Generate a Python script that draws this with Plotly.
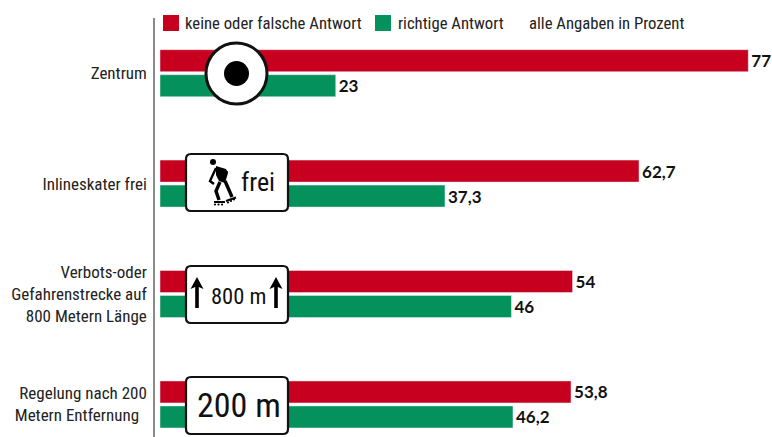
import plotly.graph_objects as go

categories = ["Zentrum", "Inlineskater frei", "Verbots-oder<br>Gefahrenstrecke auf<br>800 Metern Länge",
              "Regelung nach 200<br>Metern Entfernung\u00a0\u00a0"]
falsch = [77, 62.7, 54, 53.8]
richtig = [23, 37.3, 46, 46.2]
name_falsch = "keine oder falsche Antwort"
name_richtig = "richtige Antwort"
note = "alle Angaben in Prozent"
RED = "#C8001F"
GREEN = "#05915B"
FONT = "Roboto Condensed, Roboto, sans-serif"
BOLD = "Lato, sans-serif"
W, H = 772, 437
L, T = 155, 18
fmt = lambda v: str(v).replace(".", ",")
px = lambda x: (x - L) / (W - L)
py = lambda y: 1 - (y - T) / (H - T)

fig = go.Figure()
for name, vals, col in [(name_falsch, falsch, RED), (name_richtig, richtig, GREEN)]:
    fig.add_trace(go.Bar(name=name, y=categories, x=vals, orientation="h", marker_color=col,
                         text=[fmt(v) for v in vals], textposition="outside", constraintext="none",
                         cliponaxis=False,
                         textfont=dict(family=BOLD, size=17, color="#111111", weight="bold")))

shapes, annos = [], []
def path(d_pts, **kw):
    shapes.append(dict(type="path", xref="paper", yref="paper", path=d_pts, **kw))
def P(cmds):
    out = []
    for c in cmds:
        if isinstance(c, str):
            out.append(c)
        else:
            out.append(f"{px(c[0]):.5f},{py(c[1]):.5f}")
    return " ".join(out)
def circle(cx, cy, r, fill, line="black", lw=0):
    shapes.append(dict(type="circle", xref="paper", yref="paper", x0=px(cx-r), x1=px(cx+r), y0=py(cy+r), y1=py(cy-r),
                       fillcolor=fill, line=dict(color=line, width=lw)))
def rrect(x0, y0, x1, y1, r=5):
    path(P(["M", (x0+r, y0), "L", (x1-r, y0), "Q", (x1, y0), (x1, y0+r), "L", (x1, y1-r), "Q", (x1, y1), (x1-r, y1),
            "L", (x0+r, y1), "Q", (x0, y1), (x0, y1-r), "L", (x0, y0+r), "Q", (x0, y0), (x0+r, y0), "Z"]),
         fillcolor="white", line=dict(color="#111111", width=2.2))
def arrow(x, y0, y1):
    path(P(["M", (x-1.8, y1), "L", (x-1.8, y0+10), "L", (x-6.5, y0+12), "L", (x, y0), "L", (x+6.5, y0+12), "L", (x+1.8, y0+10),
            "L", (x+1.8, y1), "Z"]), fillcolor="black", line=dict(width=0))
def label(x, y, text, size=16.7, anchor="left", color="#222222", family=FONT):
    annos.append(dict(xref="paper", yref="paper", x=px(x), y=py(y), text=text, showarrow=False, xanchor=anchor,
                      yanchor="middle", font=dict(family=family, size=size, color=color),
                      borderpad=0, borderwidth=0))

# Legend row
for x0, col in [(163, RED), (375, GREEN)]:
    shapes.append(dict(type="rect", xref="paper", yref="paper", x0=px(x0), x1=px(x0+16), y0=py(31), y1=py(15),
                       fillcolor=col, line=dict(width=0)))
label(185, 23, name_falsch)
label(398, 23, name_richtig)
label(529, 23, note)

# Signs
circle(236.5, 73.5, 30.5, "white", "#111111", 3)
circle(236.5, 73.5, 12.5, "black")
rrect(186, 154, 288, 211)
rrect(186, 266, 288, 323)
rrect(186, 377, 288, 434)
label(258, 182, "frei", 26, "center", "#111111")
label(238, 296, "800 m", 22.5, "center", "#111111")
label(239, 405, "200 m", 34, "center", "#111111")
arrow(197, 277, 308)
arrow(276, 277, 308)
# Skater pictogram
circle(213, 162, 3, "black")
path(P(["M", (216, 166), "L", (226, 169), "L", (228, 173), "L", (225, 183), "L", (219, 181), "L", (216, 175), "Z"]),
     fillcolor="black", line=dict(width=0))
path(P(["M", (216, 168), "L", (210, 181), "L", (214, 184), "M", (227, 171), "L", (224, 178)]),
     line=dict(color="black", width=2.4))
path(P(["M", (220, 182), "L", (216, 191), "L", (219, 200), "M", (225, 181), "L", (229, 190), "L", (232, 197)]),
     line=dict(color="black", width=3.4))
path(P(["M", (214, 202), "L", (225, 202), "M", (226, 201), "L", (236, 197.5)]), line=dict(color="black", width=2.2))
for cx, cy in [(215, 204.5), (218.5, 204.5), (222, 204.5), (228, 202.5), (231, 201), (234, 199.5)]:
    circle(cx, cy, 1.1, "black")

fig.update_layout(
    width=W, height=H, margin=dict(l=L, r=0, t=T, b=0), plot_bgcolor="white", paper_bgcolor="white",
    barmode="group", bargap=0.547, bargroupgap=0.12, showlegend=False, shapes=shapes, annotations=annos,
    font=dict(family=FONT, size=17, color="#222222"),
    xaxis=dict(range=[-5 / 7.64, (W - 160) / 7.64], visible=False, fixedrange=True, automargin=False),
    yaxis=dict(range=[3.295, -0.5], type="category", showline=True, linecolor="#8a8a8a", linewidth=1.5,
               ticks="", ticklabelstandoff=3, showgrid=False, zeroline=False, automargin=False,
               tickfont=dict(family=FONT, size=17, color="#222222")),
)
fig.write_html("out.html", config=dict(displayModeBar=False),
               post_script="document.body.style.margin='0';document.body.style.overflow='hidden';")
